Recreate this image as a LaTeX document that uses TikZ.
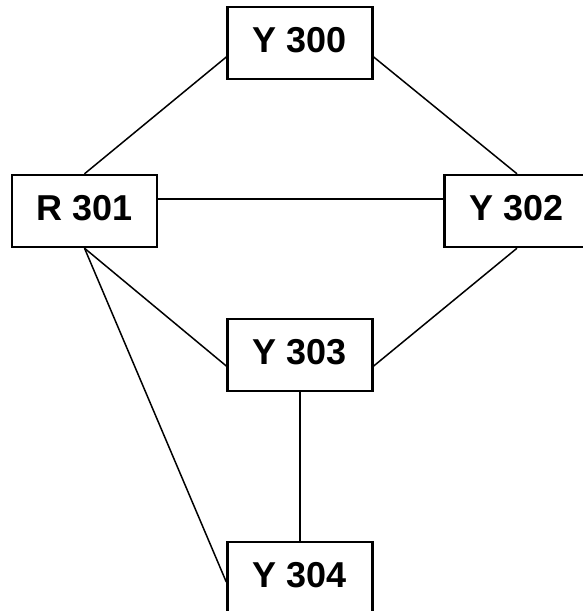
\documentclass[tikz,border=0pt]{standalone}
\usepackage{fontspec}
\setmainfont{Liberation Sans}
\usepackage{tikz}
\usetikzlibrary{positioning}

\begin{document}
\begin{tikzpicture}[x=1pt, y=-1pt,
  station/.style={draw, line width=2.4pt, fill=white, minimum width=145pt,
                  minimum height=72pt, inner sep=0pt, text depth=6pt,
                  font=\bfseries\fontsize{36}{40}\selectfont},
  link/.style={line width=1.5pt}
]
  \useasboundingbox[fill=white] (0,0) rectangle (582,611);

  \node[station] (y300) at (300,43) {Y 300};
  \node[station] (r301) at (84.5,211) {R 301};
  \node[station] (y302) at (517,211) {Y 302};
  \node[station] (y303) at (300,355) {Y 303};
  \node[station] (y304) at (300,578) {Y 304};

  \draw[link] (r301.north) -- ([yshift=-14pt]y300.west);
  \draw[link] ([yshift=-14pt]y300.east) -- (y302.north);
  \draw[link] ([yshift=12pt]r301.east) -- ([yshift=12pt]y302.west);
  \draw[link] (y302.south) -- ([yshift=-11pt]y303.east);
  \draw[link] (r301.south) -- ([yshift=-11pt]y303.west);
  \draw[link] (r301.south) -- ([yshift=-4pt]y304.west);
  \draw[link] (y303.south) -- (y304.north);
\end{tikzpicture}
\end{document}
